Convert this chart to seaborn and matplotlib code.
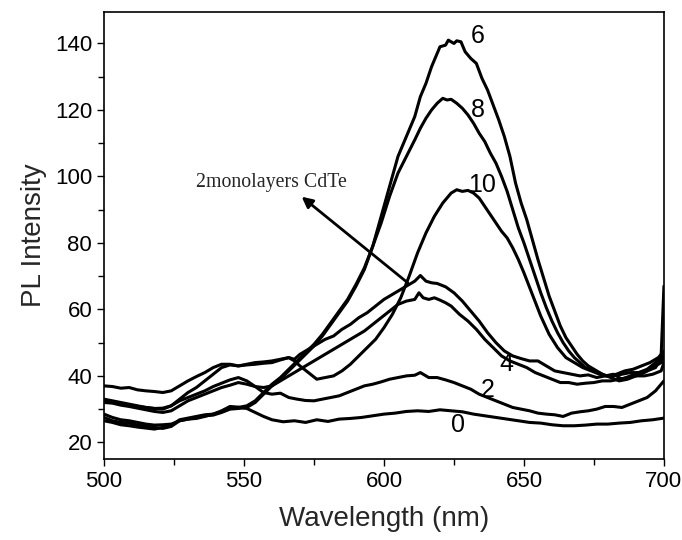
import matplotlib
matplotlib.use("Agg")
import matplotlib.pyplot as plt
import seaborn as sns
import pandas as pd
from matplotlib.ticker import MultipleLocator

# ---- data ----
x0 = [500,503,506,509,512,515,518,521,524,527,530,533,536,539,542,545,548,551,554,557,560,564,568,572,576,580,584,588,592,596,600,604,608,612,616,620,624,628,632,636,640,644,648,652,656,660,664,668,672,676,680,684,688,692,696,700]
y0 = [28.5,27.5,26.8,26.5,26,25.5,25.2,25.3,25.5,26.5,27,27.2,27.8,28.5,29.5,30.8,30.6,30.2,29,27.8,26.8,26.2,26.5,26,26.8,26.3,27,27.2,27.5,28,28.5,28.8,29.3,29.5,29.3,29.8,29.5,29.2,28.5,28,27.5,27,26.5,26,25.8,25.3,25,25,25.2,25.5,25.5,25.8,26,26.5,26.8,27.3]

x2 = [500,503,506,509,512,515,518,521,524,527,530,533,536,539,542,545,548,551,554,557,560,563,566,569,572,575,578,581,584,587,590,593,596,599,602,605,608,611,613,616,619,622,625,628,631,634,637,640,643,646,649,652,655,658,661,664,667,670,673,676,679,682,685,688,691,694,697,700]
y2 = [33,32.5,32,31.5,31,30.5,30.2,30.3,31,32.5,33.5,34.5,35.5,36.8,37.8,38.8,39.5,38.5,36.8,35,34.5,34.8,33.5,33,32.6,32.5,33,33.5,34,35,36,37,37.5,38.2,39,39.5,40,40.2,41,39.5,39.5,38.8,38,37,36,34.5,33.5,32.5,31.5,30.5,30,29.5,28.8,28.5,28.3,27.8,28.8,29.2,29.5,30,30.8,30.8,30.5,31.5,32.5,33.5,35.5,38.5]

x4 = [500,503,506,509,512,515,518,521,524,527,530,533,536,539,542,545,548,551,554,557,560,563,566,569,572,575,578,581,584,587,590,593,596,599,602,605,608,611,612.5,614,616,618,620,622,624,627,630,633,636,639,642,645,648,651,654,657,660,663,666,669,672,675,678,681,684,687,690,693,696,699,700]
y4 = [32,31.8,31.2,30.8,30.3,29.8,29.3,29,29.5,31,32.5,33.5,34.5,35.5,36.5,37.2,38,37.5,36.8,36.5,37,38.5,40,41.5,43,44.5,46,47.5,49,50.5,52,53.5,55.5,57.5,59.5,61.5,62.5,63,65,63.5,63,63.5,62.8,62,61,58.5,56.5,54,51,48.5,46,44.5,43.5,42.5,41,40,39,38,38,37.5,37.8,38,38.5,38.5,39,39.5,40,40,40.5,41.5,44]

x5 = [500,503,506,509,512,515,518,521,524,527,530,533,536,539,542,545,548,551,554,557,560,563,566,568,570,573,576,579,582,585,588,591,594,597,600,603,606,609,611,613,615,617,619,622,625,628,631,634,637,640,643,646,649,652,655,658,661,664,667,670,673,676,679,682,685,688,691,694,697,700]
y5 = [32.5,32.3,31.5,31.2,30.8,30.5,30.2,30,31,33,35,36.5,38.5,40.5,42.5,43.3,43,43.5,44,44.2,44.5,45,45.5,45,46.5,48,49.5,51,52,54,55.5,57.5,59,61,63,64.5,66,67.5,68.5,70.2,68.5,68,67.8,66.8,65,62.5,59.5,56.5,53,50,47.5,46,45.2,44.5,44.5,43,41.5,41,40.5,40,40.3,39.5,40,40,40.5,41,41,41.5,42.5,47]

x6 = [500,503,506,509,512,515,518,521,524,527,530,533,536,539,542,545,548,551,554,557,560,563,566,569,572,575,578,581,584,587,590,593,596,599,602,605,608,611,613,615,617,619,620,622,623,625,626,627.5,629,631,633,635,637,639,641,643,645,647,649,651,653,655,657,659,661,663,665,667,669,671,673,676,679,682,685,688,691,694,697,699,700]
y6 = [27.5,26.5,26,25.8,25.2,24.8,24.5,24.2,24.8,26.5,27,27.5,28,28.2,29,30,30.2,30.5,32,34.5,37,39,41.5,44,46.5,49,52,55.5,59,62.5,67,72,79,88,97,106,112,118,124,128,133,137,139,139.5,141,140,140.8,140.5,137.5,135.5,134,129.5,126,121.5,117,112,106,98,92,87,81,75,69.5,64,59.5,55,51.5,49,46.5,44.5,43,41.5,40,40.5,39,40,41,42,44,46,67]

x8 = [500,503,506,509,512,515,518,521,524,527,530,533,536,539,542,545,548,551,554,557,560,563,566,569,572,575,578,581,584,587,590,593,596,599,602,605,608,611,613,615,617,619,621,622.5,624,626,628,630,632,634,636,638,640,642,644,646,648,650,652,654,656,658,660,662,664,666,668,670,672,675,678,681,684,687,690,693,696,699,700]
y8 = [26.5,26,25.3,25,24.6,24.3,24,24.5,25,26.8,27.3,27.8,28.3,28.5,29.2,30.3,30.5,31,32.5,35,37.5,39.5,42,44.5,47,49.5,52.5,56,59.5,63,67.5,72.5,79,86,94,101,106,111,114.5,117.5,120,122,123.5,123,123.2,122,120.5,118.5,116,113,110.5,107,104,100,95.5,90,84.5,80,75,70,65,60.5,56.5,53,50,47.5,45.5,44,42.5,41.5,40.5,39.5,38.5,39,40,41,42.5,44,46]

x10 = [500,503,506,509,512,515,518,521,524,527,530,533,536,539,542,545,548,551,554,557,560,563,566,568,570,573,576,579,582,585,588,591,594,597,600,603,606,609,612,615,618,621,624,626,628,630,632,634,636,638,640,642,644,646,648,650,653,656,659,662,665,668,671,674,677,680,683,686,689,692,695,698,700]
y10 = [37,36.8,36.3,36.5,35.8,35.5,35.3,35,35.5,37,38.5,39.8,41,42.5,43.5,43.5,43,43.3,43.5,43.8,44,44.8,45.5,44.5,43,41,39,39.5,40,41.5,43.5,46,48.5,51,54.5,58.5,63.5,70,77,83,88,92,95,96,95.5,95.8,95,93.5,91,88.5,86,83.5,81.5,78.5,75,71,64.5,58,52.5,48.5,45.5,44,42.5,41.5,40.5,40,40.5,41.5,42,43,44,45.5,47.5]

curve_x = {"0": x0, "2": x2, "4": x4, "5": x5, "6": x6, "8": x8, "10": x10}
curve_y = {"0": y0, "2": y2, "4": y4, "5": y5, "6": y6, "8": y8, "10": y10}

label_text = ["6", "8", "10", "4", "2", "0"]
label_x = [633.4, 633.6, 634.9, 643.8, 637.0, 626.4]
label_y = [142.2, 119.9, 97.4, 43.7, 35.7, 25.2]

annot_text = "2monolayers CdTe"
annot_xy = (570.6, 93.9)
annot_xytext = (608.5, 68.0)
annot_pos = (559.8, 98.3)

# ---- build long table ----
frames = []
for k in curve_x:
    frames.append(pd.DataFrame({"wl": curve_x[k], "pl": curve_y[k], "curve": k}))
df = pd.concat(frames, ignore_index=True)

sns.set_style("ticks")
plt.rcParams["font.family"] = ["Liberation Sans", "DejaVu Sans"]

fig = plt.figure(figsize=(6.82, 5.40), dpi=100)
ax = fig.add_axes([0.1525, 0.15, 0.821, 0.828])

sns.lineplot(data=df, x="wl", y="pl", units="curve", estimator=None,
             color="black", linewidth=2.2, sort=False, ax=ax)

ax.set_xlim(500, 700)
ax.set_ylim(15, 149.5)
ax.xaxis.set_major_locator(MultipleLocator(50))
ax.xaxis.set_minor_locator(MultipleLocator(25))
ax.yaxis.set_major_locator(MultipleLocator(20))
ax.yaxis.set_minor_locator(MultipleLocator(10))
ax.set_yticks([20, 40, 60, 80, 100, 120, 140])
ax.tick_params(which="major", direction="out", length=5, width=1, labelsize=16, color="black", labelcolor="black")
ax.tick_params(which="minor", direction="out", length=4, width=1, color="black")
ax.tick_params(top=False, right=False, which="both")
for s in ax.spines.values():
    s.set_visible(True)
    s.set_linewidth(1.2)
    s.set_color("black")

ax.set_xlabel("Wavelength (nm)", fontsize=20, labelpad=10)
ax.set_ylabel("PL Intensity", fontsize=20, labelpad=6)

for t, lx, ly in zip(label_text, label_x, label_y):
    ax.text(lx, ly, t, fontsize=18, ha="center", va="center", color="black")

ax.text(annot_pos[0], annot_pos[1], annot_text, fontsize=14.3, ha="center", va="center",
        family=["Liberation Serif", "DejaVu Serif"])
ax.annotate("", xy=annot_xy, xytext=annot_xytext,
            arrowprops=dict(arrowstyle="-|>", color="black", lw=2, mutation_scale=16, shrinkA=0, shrinkB=0))

fig.savefig("out.png", dpi=100)
